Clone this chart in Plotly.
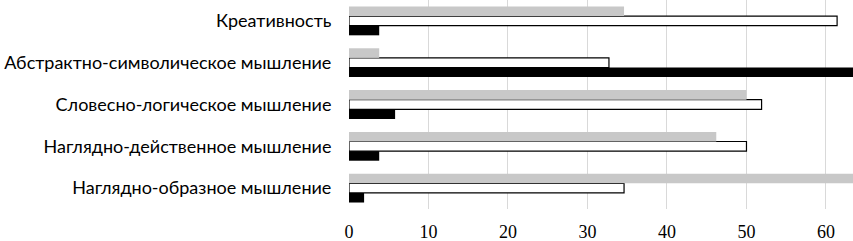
import plotly.graph_objects as go

categories = [
    "Наглядно-образное мышление",
    "Наглядно-действенное мышление",
    "Словесно-логическое мышление",
    "Абстрактно-символическое мышление",
    "Креативность",
]
series_black = [1.9, 3.8, 5.8, 66, 3.8]
series_white = [34.6, 50, 51.9, 32.7, 61.4]
series_gray = [66, 46.2, 50, 3.8, 34.6]
x_ticks = [0, 10, 20, 30, 40, 50, 60]

fig = go.Figure()
fig.add_trace(go.Bar(y=categories, x=series_black, orientation="h",
                     marker=dict(color="#000000", line=dict(width=0))))
fig.add_trace(go.Bar(y=categories, x=series_white, orientation="h",
                     marker=dict(color="#ffffff", line=dict(color="#000000", width=1.2))))
fig.add_trace(go.Bar(y=categories, x=series_gray, orientation="h",
                     marker=dict(color="#c8c8c8", line=dict(width=0))))

fig.update_layout(
    width=853, height=241,
    margin=dict(l=349, r=0, t=0, b=32),
    barmode="group", bargap=0.31, bargroupgap=0,
    showlegend=False,
    plot_bgcolor="#ffffff", paper_bgcolor="#ffffff",
    font=dict(family="Lato", color="#000000", size=18),
)
fig.update_xaxes(range=[0, 63.4], tickvals=x_ticks, showgrid=True, gridcolor="#d9d9d9",
                 gridwidth=1, zeroline=False, showline=False, automargin=False,
                 ticks="outside", ticklen=6, tickcolor="rgba(0,0,0,0)",
                 tickfont=dict(family="Liberation Serif", size=18))
fig.update_yaxes(range=[-0.5, 4.5], showgrid=False, zeroline=False, showline=False,
                 automargin=False,
                 ticks="outside", ticklen=13, tickcolor="rgba(0,0,0,0)",
                 tickfont=dict(family="Lato", size=18))

fig.write_html("out.html", config={"displayModeBar": False},
               post_script="document.body.style.margin='0';")
